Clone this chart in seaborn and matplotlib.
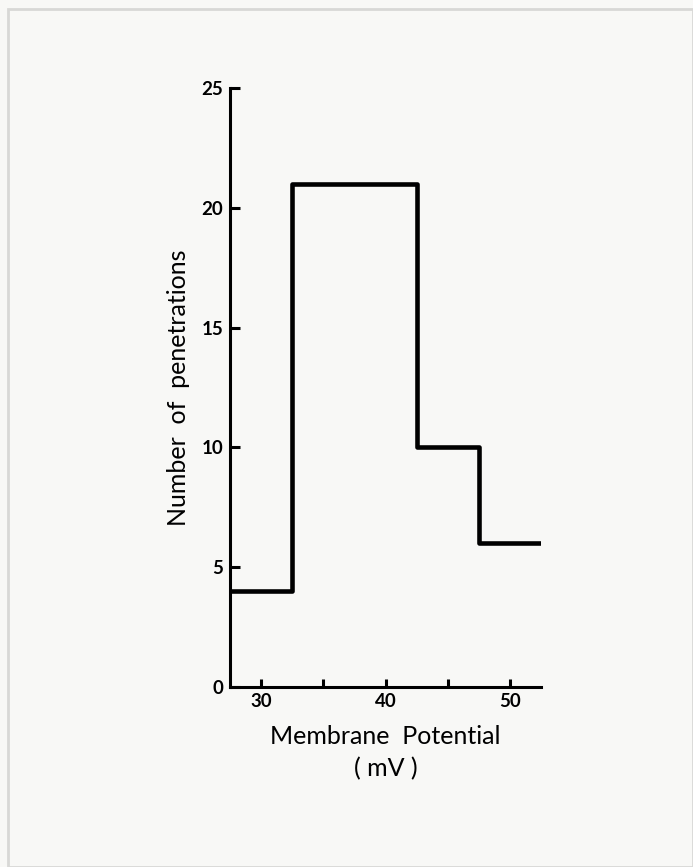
import numpy as np
import pandas as pd
import seaborn as sns
from matplotlib import pyplot as plt
from matplotlib.patches import Rectangle

# histogram of membrane potentials (bin centres, counts)
potential_mv = [30, 35, 40, 45, 50]
penetrations = [4, 21, 21, 10, 6]
bin_edges = [27.5, 32.5, 37.5, 42.5, 47.5, 52.5]
x_ticks = [30, 35, 40, 45, 50]
x_tick_labels = ['30', '', '40', '', '50']
y_ticks = [0, 5, 10, 15, 20, 25]

df = pd.DataFrame({'potential': potential_mv, 'count': penetrations})

sns.set_theme(style='ticks')
plt.rcParams['font.family'] = ['Lato', 'DejaVu Sans']
plt.rcParams['text.color'] = 'black'
plt.rcParams['axes.labelcolor'] = 'black'

paper = '#f8f8f6'
fig = plt.figure(figsize=(6.93, 8.67), dpi=100, facecolor=paper)
ax = fig.add_axes([0.332, 0.2076, 0.449, 0.6909])
ax.set_facecolor(paper)

# scanned page edge
fig.patches.append(Rectangle((0.012, 0.0), 0.988, 0.99, transform=fig.transFigure,
                             fill=False, edgecolor='#d8d8d6', linewidth=2))

sns.histplot(data=df, x='potential', weights='count', bins=bin_edges,
             element='step', fill=False, color='black', linewidth=3.3, ax=ax)

ax.set_xlim(27.5, 52.5)
ax.set_ylim(0, 25)
ax.set_xticks(x_ticks)
ax.set_xticklabels(x_tick_labels)
ax.set_yticks(y_ticks)

for side in ['top', 'right']:
    ax.spines[side].set_visible(False)
for side in ['left', 'bottom']:
    ax.spines[side].set_linewidth(2.2)
    ax.spines[side].set_color('black')

ax.tick_params(axis='both', direction='in', length=6, width=2.2, colors='black',
               labelsize=13.5, pad=4)
ax.tick_params(axis='y', length=7, pad=5)
for lab in ax.get_xticklabels() + ax.get_yticklabels():
    lab.set_fontweight('bold')

ax.set_xlabel('Membrane  Potential\n( mV )', fontsize=18, labelpad=11, linespacing=1.45)
ax.set_ylabel('Number  of  penetrations', fontsize=18, labelpad=8)

plt.savefig('out.png', dpi=100, facecolor=paper)
